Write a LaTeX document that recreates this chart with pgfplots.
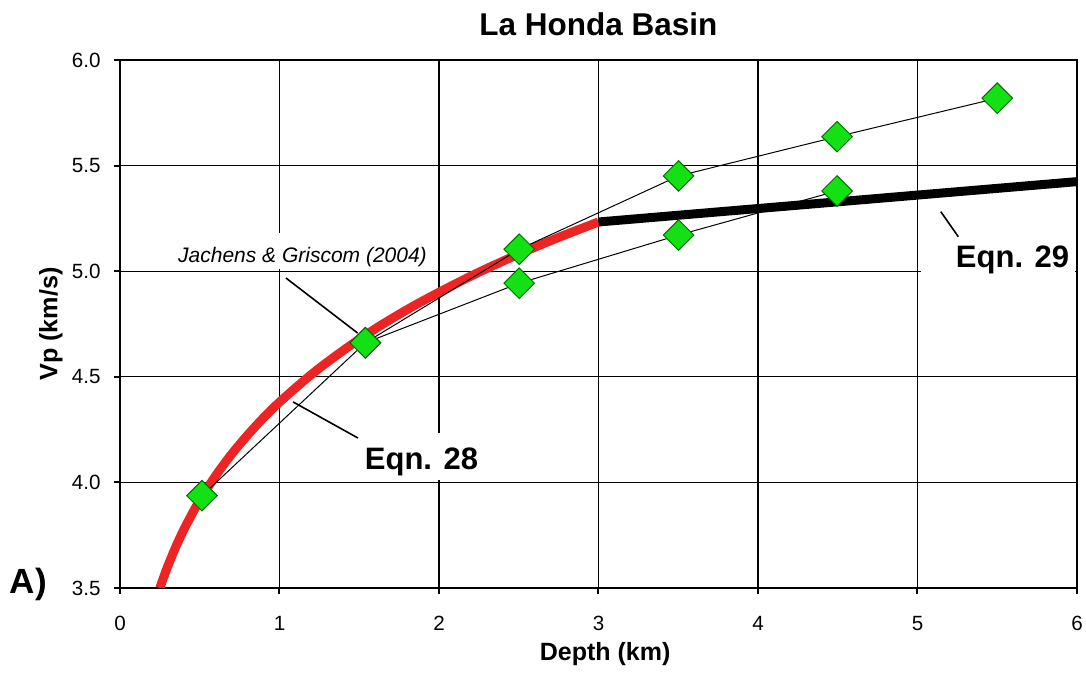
\documentclass[border=0pt]{standalone}
\usepackage{pgfplots}
\pgfplotsset{compat=1.18}
\usepackage{fontspec}
\setmainfont{Liberation Sans}
\definecolor{eqred}{RGB}{238,36,36}
\definecolor{dgreen}{RGB}{20,225,20}
\definecolor{edgegreen}{RGB}{0,110,0}
\begin{document}
\begin{tikzpicture}
\useasboundingbox (-60pt,-42.5pt) rectangle (483pt,294pt);
\begin{axis}[
  scale only axis, width=478.5pt, height=264pt,
  xmin=0, xmax=6, ymin=3.5, ymax=6.0,
  xtick={0,1,2,3,4,5,6}, ytick={3.5,4.0,4.5,5.0,5.5,6.0},
  /pgf/number format/assume math mode=true,
  yticklabel style={/pgf/number format/fixed, /pgf/number format/fixed zerofill, /pgf/number format/precision=1},
  tick label style={font=\fontsize{10.3}{12}\selectfont},
  xticklabel style={anchor=north, inner sep=0pt, yshift=-11pt},
  yticklabel style={anchor=east, inner sep=0pt, xshift=-6.5pt},
  grid=major, major grid style={line width=0.65pt, black},
  axis line style={line width=1.1pt},
  tick style={line width=1pt, black},
  major tick length=3pt, tick align=outside, tick pos=left,
  title={La Honda Basin},
  title style={at={(axis description cs:0.5,1.0246)}, anchor=base, inner sep=0pt, font=\bfseries\fontsize{15.75}{18}\selectfont},
  xlabel={Depth (km)},
  xlabel style={at={(axis description cs:0.507,-0.1364)}, anchor=base, inner sep=0pt, font=\bfseries\fontsize{12.5}{15}\selectfont},
  ylabel={Vp (km/s)},
  ylabel style={at={(axis description cs:-0.0596,0.5)}, anchor=south, inner sep=0pt, font=\bfseries\fontsize{12.6}{15}\selectfont},
]
% white label boxes over the grid
\fill[white] (axis cs:0.345,5.181) rectangle (axis cs:1.956,5.012);
\fill[white] (axis cs:1.473,4.234) rectangle (axis cs:2.288,4.012);
\fill[white] (axis cs:5.02,5.148) rectangle (axis cs:5.99,4.958);
\node[anchor=base, inner sep=0pt, font=\itshape\fontsize{10.5}{12}\selectfont] at (axis cs:1.144,5.039) {Jachens \& Griscom (2004)};
\node[anchor=base, inner sep=0pt, font=\bfseries\fontsize{15.5}{18}\selectfont] at (axis cs:1.890,4.059) {Eqn. 28};
\node[anchor=base, inner sep=0pt, font=\bfseries\fontsize{15.5}{18}\selectfont] at (axis cs:5.596,5.018) {Eqn. 29};
\draw[line width=0.8pt] (axis cs:1.04,4.968) -- (axis cs:1.49,4.707);
\draw[line width=0.8pt] (axis cs:1.085,4.381) -- (axis cs:1.492,4.21);
\draw[line width=0.8pt] (axis cs:5.146,5.282) -- (axis cs:5.256,5.163);
\coordinate (Apos) at (axis cs:-0.574,3.476);
% Eqn. 28
\addplot[eqred, line width=4.5pt, line cap=butt, smooth] coordinates {
(0.25,3.500) (0.27,3.543) (0.30,3.604) (0.35,3.695) (0.40,3.776) (0.45,3.848)
(0.50,3.915) (0.60,4.032) (0.70,4.134) (0.80,4.224) (0.90,4.306) (1.00,4.380)
(1.20,4.511) (1.40,4.625) (1.60,4.727) (1.80,4.818) (2.00,4.900) (2.25,4.995)
(2.50,5.081) (2.75,5.160) (3.00,5.233)};
% Eqn. 29
\addplot[black, line width=4.5pt, line cap=butt] coordinates {(3.0,5.233) (6.0,5.424)};
% Jachens & Griscom data
\addplot[black, line width=0.5pt, mark=square*, mark size=5.4pt,
  mark options={rotate=45, fill=dgreen, draw=edgegreen, line width=0.5pt, solid}] coordinates {
(0.514,3.937) (1.538,4.661) (2.503,5.104) (3.502,5.451) (4.496,5.637) (5.50,5.819)};
\addplot[black, line width=0.5pt, mark=square*, mark size=5.4pt,
  mark options={rotate=45, fill=dgreen, draw=edgegreen, line width=0.5pt, solid}] coordinates {
(1.538,4.661) (2.503,4.943) (3.502,5.171) (4.496,5.380)};
\end{axis}
\node[anchor=base, inner sep=0pt, font=\bfseries\fontsize{17.5}{20}\selectfont] at (Apos) {A)};
\end{tikzpicture}
\end{document}
